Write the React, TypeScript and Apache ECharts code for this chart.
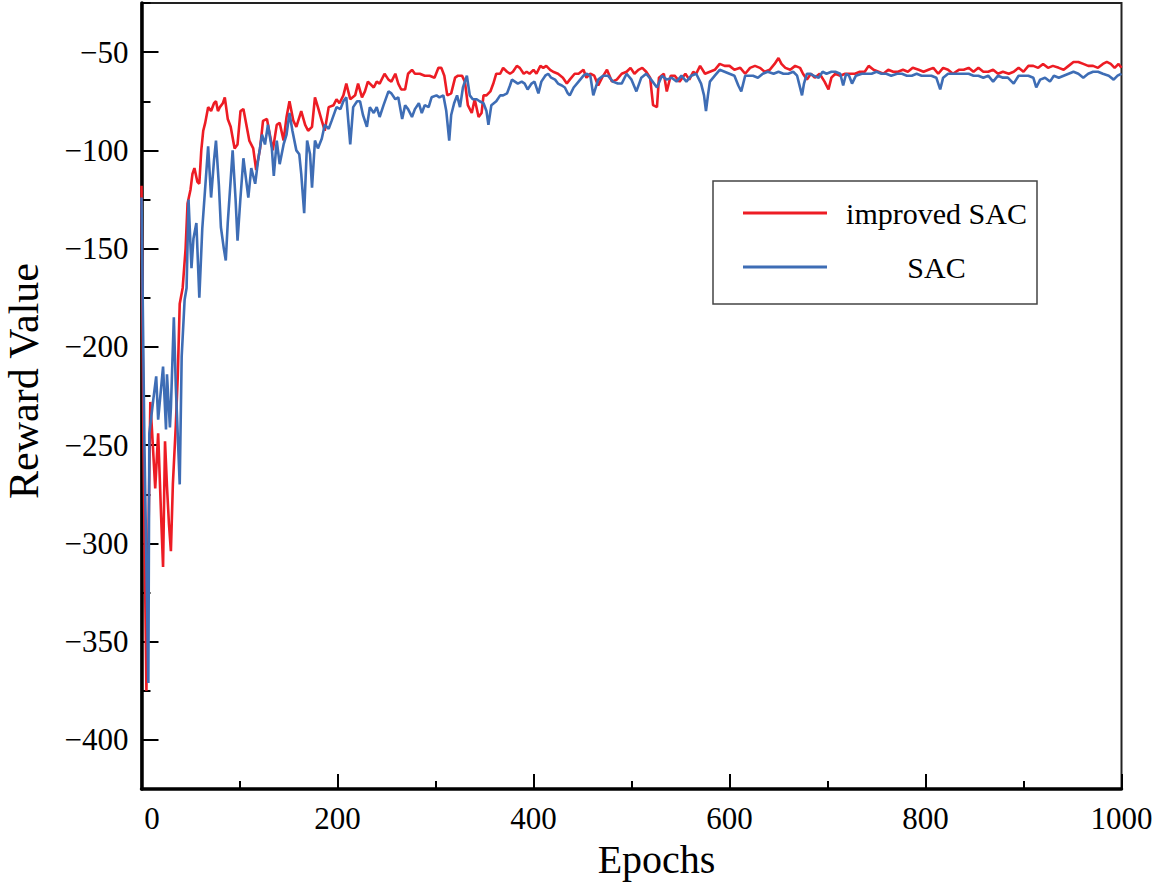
import React, { useEffect, useRef } from "react";
import * as echarts from "echarts";

const FONT = "Liberation Serif";

const improvedSAC: [number, number][] = [
  [0,-118],[2,-250],[5,-375],[7,-300],[9,-228],[11,-245],[14,-272],[17,-244],[20,-286],[22,-312],[24,-248],[26,-271],[28,-290],[30,-304],[32,-270],[35,-240],[37,-215],[39,-178],[42,-170],[45,-150],[47,-127],[50,-120],[52,-112],[54,-109],[57,-116],[59,-117],[61,-100],[63,-90],[65,-86],[68,-78],[71,-80],[74,-76],[76,-75],[78,-80],[80,-78],[83,-76],[85,-73],[88,-84],[91,-88],[95,-99],[98,-97],[101,-80],[104,-79],[107,-87],[110,-95],[114,-99],[117,-110],[121,-99],[124,-85],[128,-84],[131,-92],[134,-100],[138,-87],[141,-86],[145,-95],[148,-83],[151,-75],[155,-85],[158,-88],[163,-80],[167,-87],[170,-90],[174,-88],[177,-73],[180,-78],[184,-85],[187,-90],[191,-78],[196,-77],[199,-74],[202,-76],[206,-72],[209,-66],[213,-74],[218,-72],[221,-66],[225,-73],[228,-70],[231,-65],[237,-68],[240,-65],[243,-66],[248,-61],[252,-64],[255,-65],[259,-61],[262,-66],[265,-69],[269,-69],[272,-61],[276,-59],[279,-61],[284,-61],[289,-62],[294,-62],[299,-63],[303,-58],[306,-58],[309,-62],[312,-72],[316,-71],[320,-63],[323,-62],[327,-62],[330,-65],[333,-77],[337,-81],[340,-74],[344,-83],[347,-81],[349,-72],[352,-72],[356,-70],[359,-66],[362,-61],[366,-61],[369,-58],[373,-60],[376,-61],[379,-60],[383,-57],[386,-58],[390,-61],[393,-60],[396,-61],[400,-59],[403,-61],[407,-57],[410,-58],[413,-57],[417,-59],[420,-60],[425,-61],[430,-63],[434,-66],[437,-64],[442,-61],[446,-61],[451,-59],[454,-63],[458,-61],[462,-62],[466,-67],[470,-63],[475,-59],[480,-65],[485,-64],[490,-61],[495,-60],[499,-58],[503,-61],[507,-59],[511,-58],[515,-60],[519,-63],[522,-77],[526,-78],[528,-63],[533,-61],[536,-70],[540,-62],[544,-62],[549,-65],[555,-61],[559,-64],[563,-60],[566,-61],[570,-57],[575,-61],[580,-60],[585,-59],[590,-56],[595,-57],[600,-57],[605,-59],[611,-58],[616,-61],[621,-58],[626,-57],[631,-58],[636,-60],[641,-59],[646,-56],[650,-53],[653,-56],[657,-58],[662,-59],[667,-57],[672,-58],[675,-61],[679,-64],[683,-61],[687,-63],[692,-61],[697,-65],[701,-69],[704,-63],[708,-61],[713,-62],[718,-61],[723,-61],[728,-61],[733,-60],[738,-60],[742,-57],[747,-59],[752,-60],[757,-61],[762,-59],[767,-60],[772,-60],[777,-59],[782,-60],[787,-58],[793,-59],[798,-60],[803,-59],[808,-58],[813,-61],[818,-58],[823,-59],[828,-61],[834,-59],[839,-59],[844,-58],[849,-60],[854,-58],[859,-60],[864,-60],[869,-59],[874,-61],[879,-60],[885,-61],[890,-60],[895,-58],[900,-60],[905,-57],[910,-57],[915,-58],[920,-56],[925,-58],[930,-57],[936,-58],[941,-59],[946,-57],[951,-55],[956,-55],[961,-56],[966,-57],[971,-57],[976,-58],[981,-56],[985,-55],[989,-56],[993,-58],[997,-56],[1000,-58]
];

const sac: [number, number][] = [
  [0,-124],[3,-250],[7,-371],[8,-244],[12,-227],[15,-215],[17,-237],[22,-210],[25,-242],[26,-214],[29,-241],[30,-231],[33,-185],[35,-220],[39,-270],[41,-205],[44,-176],[46,-170],[48,-125],[51,-160],[53,-145],[56,-137],[59,-175],[62,-140],[65,-119],[68,-98],[71,-124],[74,-105],[76,-95],[79,-118],[81,-139],[84,-150],[86,-156],[88,-137],[91,-115],[93,-100],[96,-125],[98,-146],[101,-124],[104,-104],[107,-116],[109,-124],[112,-109],[116,-117],[119,-105],[123,-92],[126,-97],[129,-87],[133,-99],[135,-113],[138,-95],[141,-107],[145,-97],[148,-92],[151,-81],[154,-90],[158,-100],[161,-102],[163,-112],[166,-132],[169,-95],[172,-102],[174,-119],[177,-95],[180,-99],[184,-94],[187,-87],[191,-89],[194,-85],[199,-78],[203,-79],[206,-75],[209,-73],[213,-97],[216,-78],[220,-75],[223,-75],[226,-82],[230,-88],[233,-78],[237,-81],[240,-78],[243,-83],[247,-77],[252,-70],[255,-71],[259,-74],[262,-73],[266,-84],[269,-77],[272,-79],[276,-83],[279,-79],[283,-76],[286,-81],[289,-77],[293,-78],[296,-73],[301,-72],[304,-73],[308,-72],[311,-80],[314,-95],[316,-82],[319,-76],[322,-72],[325,-78],[328,-68],[332,-62],[335,-72],[338,-74],[342,-74],[345,-75],[349,-76],[352,-80],[354,-87],[357,-77],[362,-75],[366,-72],[369,-72],[373,-71],[376,-67],[378,-64],[381,-65],[384,-66],[388,-65],[391,-66],[394,-69],[398,-66],[401,-65],[405,-71],[408,-65],[412,-62],[415,-61],[418,-63],[422,-64],[425,-66],[429,-67],[432,-68],[435,-71],[437,-72],[441,-68],[446,-65],[451,-62],[454,-61],[458,-62],[461,-72],[466,-64],[471,-62],[476,-62],[481,-65],[486,-66],[490,-66],[495,-61],[500,-64],[505,-70],[510,-63],[515,-61],[520,-64],[526,-68],[531,-62],[536,-64],[541,-63],[546,-65],[551,-62],[556,-65],[561,-62],[566,-61],[571,-66],[574,-72],[576,-80],[578,-72],[580,-65],[585,-62],[590,-59],[595,-60],[600,-61],[605,-62],[609,-67],[612,-70],[614,-66],[616,-62],[620,-62],[624,-62],[629,-63],[634,-61],[639,-60],[645,-61],[650,-60],[655,-61],[660,-61],[665,-60],[669,-62],[671,-66],[674,-72],[676,-66],[679,-61],[682,-61],[686,-62],[691,-63],[695,-60],[699,-61],[704,-60],[708,-60],[713,-61],[716,-67],[719,-61],[722,-62],[725,-66],[729,-62],[735,-61],[740,-61],[745,-61],[750,-60],[755,-61],[760,-61],[765,-62],[771,-61],[776,-61],[781,-62],[786,-62],[791,-61],[796,-62],[801,-62],[806,-62],[811,-63],[815,-69],[818,-63],[823,-61],[828,-61],[834,-61],[839,-61],[844,-61],[849,-62],[854,-62],[859,-63],[864,-62],[869,-65],[874,-62],[879,-63],[884,-63],[890,-66],[895,-62],[900,-62],[905,-62],[910,-63],[913,-68],[917,-64],[922,-63],[927,-65],[931,-62],[936,-63],[941,-62],[946,-61],[951,-60],[956,-61],[961,-63],[966,-61],[971,-60],[976,-60],[981,-61],[987,-62],[992,-64],[996,-62],[1000,-61]
];

const seriesNames = ["improved SAC", "SAC"];
const seriesColors = ["#ED1C24", "#3E6DB5"];
const yMajorTicks = [-400, -350, -300, -250, -200, -150, -100, -50];
const yMinorTicks = [-425, -375, -325, -275, -225, -175, -125, -75, -25];

const fmtY = (v: number) => (v < 0 ? "\u2212" : "") + Math.abs(v);

export default function App() {
  const ref = useRef<HTMLDivElement>(null);
  useEffect(() => {
    document.body.style.margin = "0";
    const chart = echarts.init(ref.current!, null, { renderer: "svg" });
    const axisFont = { fontFamily: FONT, fontSize: 31, color: "#000" };
    chart.setOption({
      animation: false,
      backgroundColor: "#fff",
      grid: {
        left: 141.5, right: 49.5, top: 3, bottom: 102,
        containLabel: false,
        outerBoundsMode: "none",
        show: true, borderColor: "#222", borderWidth: 2, backgroundColor: "transparent",
      },
      legend: {
        show: true,
        orient: "vertical",
        left: 713,
        top: 181,
        data: seriesNames,
        icon: "rect",
        itemWidth: 84,
        itemHeight: 3,
        itemGap: 24,
        padding: [17, 9, 22, 30],
        borderColor: "#444",
        borderWidth: 1.5,
        backgroundColor: "#fff",
        formatter: (name: string) => `{c|${name}}`,
        textStyle: {
          rich: {
            c: { width: 183, align: "center", padding: [0, 0, 0, 13], fontFamily: FONT, fontSize: 30, color: "#000", lineHeight: 30 },
          },
        },
      },
      xAxis: {
        type: "value",
        min: 0,
        max: 1000,
        interval: 200,
        name: "Epochs",
        nameLocation: "middle",
        nameGap: 50,
        nameTextStyle: { fontFamily: FONT, fontSize: 40, color: "#000", padding: [0, 0, 0, 50] },
        axisLine: { show: true, lineStyle: { color: "#000", width: 3.5 } },
        axisTick: { show: true, inside: true, length: 15, lineStyle: { color: "#000", width: 2 } },
        minorTick: { show: true, splitNumber: 2, length: 8, lineStyle: { color: "#000", width: 2 } },
        splitLine: { show: false },
        axisLabel: {
          ...axisFont,
          margin: 14,
          formatter: (v: number) => (v === 0 ? "{z|0}" : String(v)),
          rich: { z: { padding: [0, 0, 0, 21], fontFamily: FONT, fontSize: 31, color: "#000" } },
        },
      },
      yAxis: [
        {
          type: "value",
          min: -425,
          max: -25,
          name: "Reward Value",
          nameLocation: "middle",
          nameGap: 97,
          nameTextStyle: { fontFamily: FONT, fontSize: 42, color: "#000", padding: [0, 0, 0, 30] },
          axisLine: { show: true, lineStyle: { color: "#000", width: 3.5 } },
          axisTick: { show: true, inside: true, length: 17, customValues: yMajorTicks, lineStyle: { color: "#000", width: 2 } },
          splitLine: { show: false },
          axisLabel: { ...axisFont, margin: 13, customValues: yMajorTicks, formatter: fmtY },
        },
        {
          type: "value",
          min: -425,
          max: -25,
          position: "left",
          axisLine: { show: false },
          axisTick: { show: true, inside: true, length: 9, customValues: yMinorTicks, lineStyle: { color: "#000", width: 2 } },
          axisLabel: { show: false },
          splitLine: { show: false },
        },
      ],
      series: [
        {
          name: seriesNames[0],
          type: "line",
          data: improvedSAC,
          showSymbol: false,
          symbol: "none",
          lineStyle: { color: seriesColors[0], width: 2.6 },
          itemStyle: { color: seriesColors[0] },
          z: 3,
        },
        {
          name: seriesNames[1],
          type: "line",
          data: sac,
          showSymbol: false,
          symbol: "none",
          lineStyle: { color: seriesColors[1], width: 2.6 },
          itemStyle: { color: seriesColors[1] },
          z: 4,
        },
      ],
    });
    return () => chart.dispose();
  }, []);
  return <div ref={ref} style={{ width: 1171, height: 891 }} />;
}
